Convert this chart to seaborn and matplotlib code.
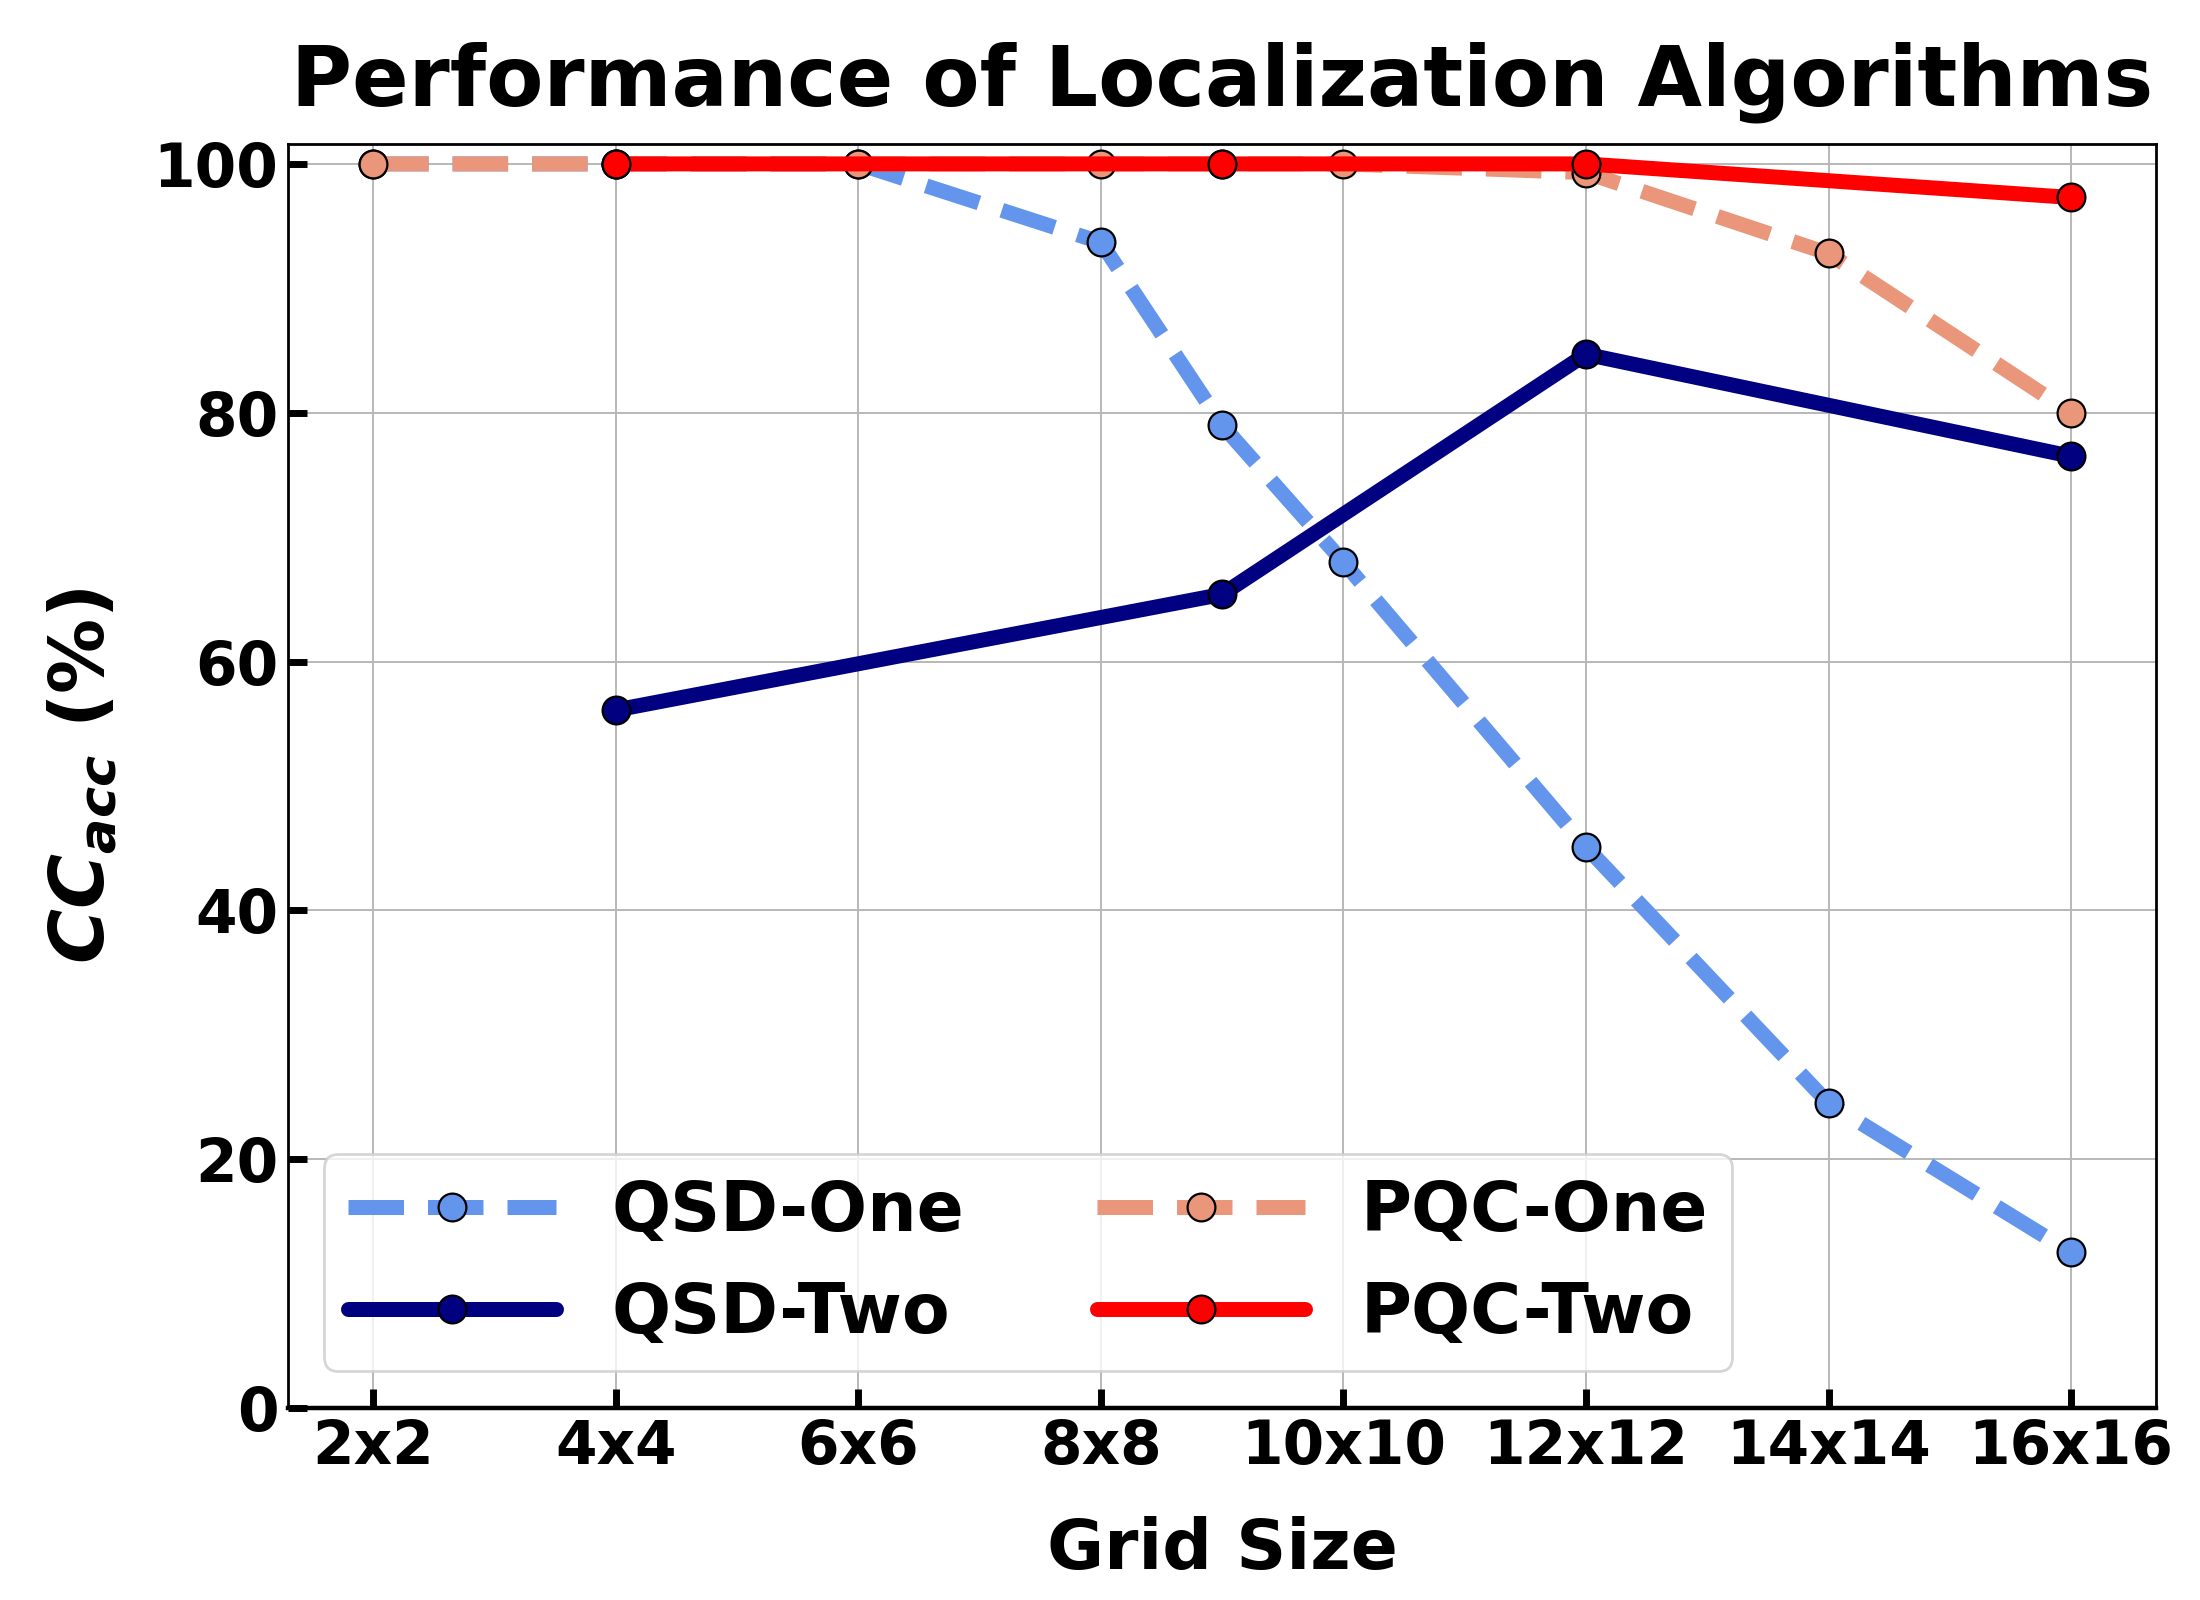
import matplotlib

matplotlib.use("Agg")

import matplotlib.pyplot as plt  # noqa: E402
import pandas as pd  # noqa: E402
import seaborn as sns  # noqa: E402

grid_pos = [2, 4, 6, 8, 10, 12, 14, 16]
grid_labels = ["2x2", "4x4", "6x6", "8x8", "10x10", "12x12", "14x14", "16x16"]

one_x = [2, 4, 6, 8, 9, 10, 12, 14, 16]
qsd_one = [100, 100, 100, 93.7, 79.0, 68.0, 45.1, 24.5, 12.5]
pqc_one = [100, 100, 100, 100, 100, 100, 99.3, 92.8, 80.0]

two_x = [4, 9, 12, 16]
qsd_two = [56.1, 65.4, 84.7, 76.5]
pqc_two = [100, 100, 100, 97.3]

sns.set_theme(style="ticks")
plt.rcParams["font.family"] = ["DejaVu Sans"]
plt.rcParams["font.weight"] = "bold"
for key in ["text.color", "axes.labelcolor", "xtick.color", "ytick.color"]:
    plt.rcParams[key] = "black"

fig, ax = plt.subplots(figsize=(11, 8), dpi=200)

series = [
    ("QSD-One", one_x, qsd_one, "cornflowerblue", "--"),
    ("PQC-One", one_x, pqc_one, "darksalmon", "--"),
    ("QSD-Two", two_x, qsd_two, "navy", "-"),
    ("PQC-Two", two_x, pqc_two, "red", "-"),
]
for name, xs, ys, color, ls in series:
    df = pd.DataFrame({"x": xs, "y": ys})
    sns.lineplot(
        data=df, x="x", y="y", ax=ax, color=color, linestyle=ls,
        linewidth=5.4, marker="o", markersize=10, markeredgecolor="black",
        markeredgewidth=0.8, label=name,
    )

ax.set_xticks(grid_pos)
ax.set_xticklabels(grid_labels)
ax.set_yticks([0, 20, 40, 60, 80, 100])
ax.set_xlim(1.3, 16.7)
ax.set_ylim(0, 101.6)
ax.grid(True, color="#b8b8b8", linewidth=0.7)
ax.tick_params(axis="both", direction="in", length=7, width=2.5, labelsize=21.5)
for lab in ax.get_xticklabels() + ax.get_yticklabels():
    lab.set_fontweight("bold")
for sp in ax.spines.values():
    sp.set_color("black")
    sp.set_linewidth(1.0)
ax.spines["bottom"].set_linewidth(1.6)

ax.set_xlabel("Grid Size", fontsize=25, fontweight="bold", labelpad=14)
ax.set_ylabel(r"$\mathbfit{CC}_{\mathbfit{acc}}$ (%)", fontsize=27,
              fontweight="bold", labelpad=12)
ax.set_title("Performance of Localization Algorithms", fontsize=30,
             fontweight="bold", pad=14)

handles, labels = ax.get_legend_handles_labels()
order = [0, 2, 1, 3]
ax.legend([handles[i] for i in order], [labels[i] for i in order],
          loc="lower left", bbox_to_anchor=(0.019, 0.029), ncol=2,
          borderaxespad=0, prop={"size": 25, "weight": "bold"},
          handlelength=3.0, columnspacing=1.9, borderpad=0.35,
          labelspacing=0.5, handletextpad=0.8)

fig.subplots_adjust(left=0.131, right=0.98, top=0.91, bottom=0.12)
fig.savefig("out.png", dpi=200)
